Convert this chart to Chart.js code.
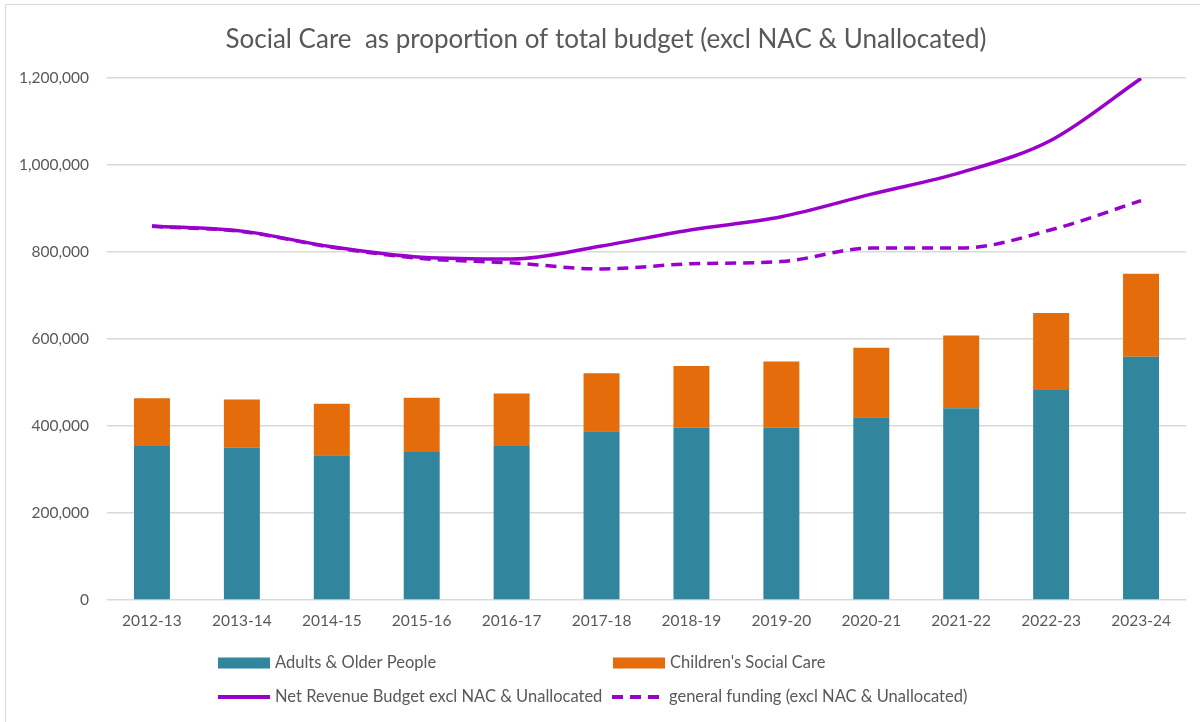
<!DOCTYPE html>
<html>
<head>
<meta charset="utf-8">
<script src="https://cdn.jsdelivr.net/npm/chart.js@4"></script>
<style>
  html, body { margin: 0; padding: 0; background: #fff; }
  #wrap { position: relative; width: 1200px; height: 722px; }
</style>
</head>
<body>
<div id="wrap"><canvas id="c" width="1200" height="722"></canvas></div>
<script>
const categories = ['2012-13','2013-14','2014-15','2015-16','2016-17','2017-18','2018-19','2019-20','2020-21','2021-22','2022-23','2023-24'];
const adultsOlderPeople = [354000, 350000, 333000, 340000, 354000, 388000, 396000, 396000, 420000, 441000, 483000, 559000];
const childrensSocialCare = [110000, 111000, 118000, 125000, 121000, 133000, 142000, 152000, 160000, 167000, 177000, 191000];
const netRevenueBudget = [860000, 848000, 812000, 788000, 784000, 814000, 851000, 881000, 933000, 983000, 1057000, 1199000];
const generalFunding = [859000, 847000, 811000, 785000, 775000, 761000, 773000, 778000, 809000, 809000, 851000, 918000];
const yTicks = [0, 200000, 400000, 600000, 800000, 1000000, 1200000];
const chartTitle = 'Social Care  as proportion of total budget (excl NAC & Unallocated)';

const FONT = "Lato, 'Open Sans', 'Liberation Sans', sans-serif";
const TEXT = '#595959';
const TEAL = '#31859C';
const ORANGE = '#E46C0A';
const PURPLE = '#9A00CC';

const titlePlugin = {
  id: 'excelTitle',
  afterDraw(chart) {
    const ctx = chart.ctx;
    ctx.save();
    ctx.font = "26px " + FONT;
    ctx.fillStyle = TEXT;
    ctx.textAlign = 'center';
    ctx.textBaseline = 'middle';
    ctx.fillText(chartTitle, 606, 40);
    ctx.restore();
  }
};

const legendPlugin = {
  id: 'excelLegend',
  afterDraw(chart) {
    const ctx = chart.ctx;
    const ds = chart.data.datasets;
    const items = [
      { d: ds[0], x: 218, y: 663 },
      { d: ds[1], x: 613, y: 663 },
      { d: ds[2], x: 218, y: 697 },
      { d: ds[3], x: 612, y: 697 }
    ];
    ctx.save();
    ctx.font = "16.5px " + FONT;
    ctx.textBaseline = 'middle';
    items.forEach(it => {
      const d = it.d;
      if (d.type === 'line') {
        ctx.strokeStyle = d.borderColor;
        ctx.lineWidth = 4;
        ctx.setLineDash(d.borderDash || []);
        ctx.beginPath();
        ctx.moveTo(it.x, it.y);
        ctx.lineTo(it.x + 52, it.y);
        ctx.stroke();
        ctx.setLineDash([]);
      } else {
        ctx.fillStyle = d.backgroundColor;
        ctx.fillRect(it.x, it.y - 5.5, 52, 11);
      }
      ctx.fillStyle = TEXT;
      ctx.textAlign = 'left';
      ctx.fillText(d.label, it.x + 57, it.y);
    });
    ctx.restore();
  }
};

const framePlugin = {
  id: 'frame',
  beforeDraw(chart) {
    const ctx = chart.ctx;
    ctx.save();
    ctx.fillStyle = '#fff';
    ctx.fillRect(0, 0, chart.width, chart.height);
    ctx.strokeStyle = '#d9d9d9';
    ctx.lineWidth = 1;
    ctx.beginPath();
    ctx.moveTo(5.5, 722);
    ctx.lineTo(5.5, 4.5);
    ctx.lineTo(1200, 4.5);
    ctx.stroke();
    ctx.restore();
  }
};

new Chart(document.getElementById('c'), {
  data: {
    labels: categories,
    datasets: [
      { type: 'bar', label: 'Adults & Older People', data: adultsOlderPeople, backgroundColor: TEAL, stack: 'care', order: 3, categoryPercentage: 1.0, barPercentage: 0.4 },
      { type: 'bar', label: "Children's Social Care", data: childrensSocialCare, backgroundColor: ORANGE, stack: 'care', order: 3, categoryPercentage: 1.0, barPercentage: 0.4 },
      { type: 'line', label: 'Net Revenue Budget excl NAC & Unallocated', data: netRevenueBudget, borderColor: PURPLE, backgroundColor: PURPLE, borderWidth: 3.5, pointRadius: 0, cubicInterpolationMode: 'monotone', stack: 'net', order: 0, fill: false },
      { type: 'line', label: 'general funding (excl NAC & Unallocated)', data: generalFunding, borderColor: PURPLE, backgroundColor: PURPLE, borderWidth: 3.5, borderDash: [11, 7], pointRadius: 0, cubicInterpolationMode: 'monotone', stack: 'gen', order: 1, fill: false }
    ]
  },
  options: {
    responsive: false,
    animation: false,
    layout: { padding: { left: 0, right: 14, top: 78, bottom: 0 } },
    plugins: {
      legend: { display: false },
      tooltip: { enabled: false },
      title: { display: false }
    },
    scales: {
      x: {
        stacked: true,
        grid: { display: false, drawTicks: false },
        border: { display: false },
        ticks: { color: TEXT, font: { family: FONT, size: 15.5 }, padding: 12, maxRotation: 0 },
        afterFit(scale) { scale.height = 122; }
      },
      y: {
        stacked: true,
        min: 0,
        max: 1200000,
        afterBuildTicks(scale) { scale.ticks = yTicks.map(v => ({ value: v })); },
        grid: { color: '#d9d9d9', lineWidth: 1.5, drawTicks: false },
        border: { display: false },
        ticks: {
          color: TEXT,
          font: { family: FONT, size: 15.5 },
          padding: 18,
          callback: v => Number(v).toLocaleString('en-GB')
        },
        afterFit(scale) { scale.width = 107; }
      }
    }
  },
  plugins: [framePlugin, titlePlugin, legendPlugin]
});
</script>
</body>
</html>
